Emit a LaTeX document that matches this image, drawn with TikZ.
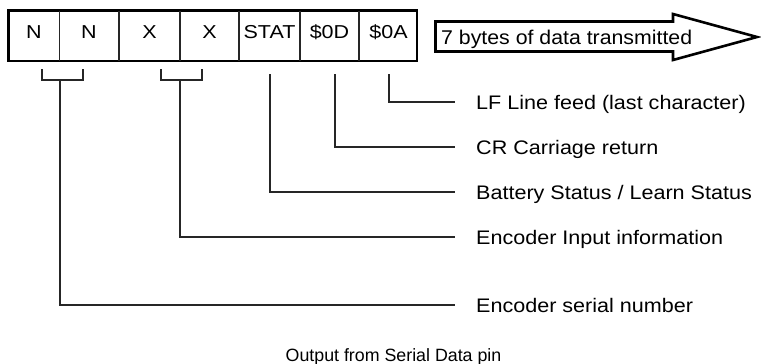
\documentclass[tikz,border=0pt]{standalone}
\usepackage{fontspec}
\setmainfont{Liberation Sans}
\newfontfamily\cellfont{Liberation Sans}[FakeStretch=1.15]
\newfontfamily\labfont{Liberation Sans}[FakeStretch=1.1]
\newfontfamily\arrfont{Liberation Sans}[FakeStretch=1.07]
\begin{document}
\begin{tikzpicture}[x=1pt,y=-1pt,
  celltext/.style={inner sep=0pt,anchor=base,font=\cellfont\fontsize{18.7}{20}\selectfont},
  labtext/.style={inner sep=0pt,anchor=base west,font=\labfont\fontsize{19.6}{22}\selectfont},
  thin line/.style={line width=1.1pt,draw=black!85},
  thick line/.style={line width=2.6pt,draw=black}]
\useasboundingbox[fill=white] (0,0) rectangle (761,364);
% frame
\draw[thick line] (8.5,10.5) rectangle (417,61);
\foreach \x in {59.5,119,180,239,300,359}{\draw[thin line] (\x,10.5) -- (\x,61);}
% cell texts
\node[celltext] (c1) at (34,38) {N};
\node[celltext] (c2) at (89,38) {N};
\node[celltext] (c3) at (149.5,38) {X};
\node[celltext] (c4) at (209.5,38) {X};
\node[celltext] (c5) at (269.5,38) {STAT};
\node[celltext] (c6) at (329.5,38) {\$0D};
\node[celltext] (c7) at (388.5,38) {\$0A};
% arrow
\draw[line width=2.6pt,line join=miter] (435.5,21.5) -- (673,21.5) -- (673,14) -- (757,37) -- (673,60) -- (673,51.5) -- (435.5,51.5) -- cycle;
\node[inner sep=0pt,anchor=base west,font=\arrfont\fontsize{19.9}{22}\selectfont] (arr) at (441,44) {7 bytes of data transmitted};
% labels
\node[labtext] (l1) at (476,109) {LF Line feed (last character)};
\node[labtext] (l2) at (476,154) {CR Carriage return};
\node[labtext] (l3) at (476,199) {Battery Status / Learn Status};
\node[labtext] (l4) at (476,244) {Encoder Input information};
\node[labtext] (l5) at (476,312) {Encoder serial number};
% coordinates
\coordinate (b1l) at (42,69); \coordinate (b1r) at (83,69); \coordinate (b1m) at (60,80);
\coordinate (b2l) at (161,69); \coordinate (b2r) at (202,69); \coordinate (b2m) at (180,80);
\coordinate (t5) at (270,74); \coordinate (t6) at (335,74); \coordinate (t7) at (389,74);
\coordinate (e1) at (455,102); \coordinate (e2) at (455,147); \coordinate (e3) at (455,192);
\coordinate (e4) at (455,237); \coordinate (e5) at (455,305);
% brackets
\draw[thin line] (b1l) |- (b1m) -| (b1r);
\draw[thin line] (b2l) |- (b2m) -| (b2r);
% connectors
\draw[thin line] (b1m) |- (e5);
\draw[thin line] (b2m) |- (e4);
\draw[thin line] (t5) |- (e3);
\draw[thin line] (t6) |- (e2);
\draw[thin line] (t7) |- (e1);
% caption
\node[inner sep=0pt,anchor=base,font=\fontsize{17.8}{20}\selectfont] (cap) at (393.5,361) {Output from Serial Data pin};
\end{tikzpicture}
\end{document}
